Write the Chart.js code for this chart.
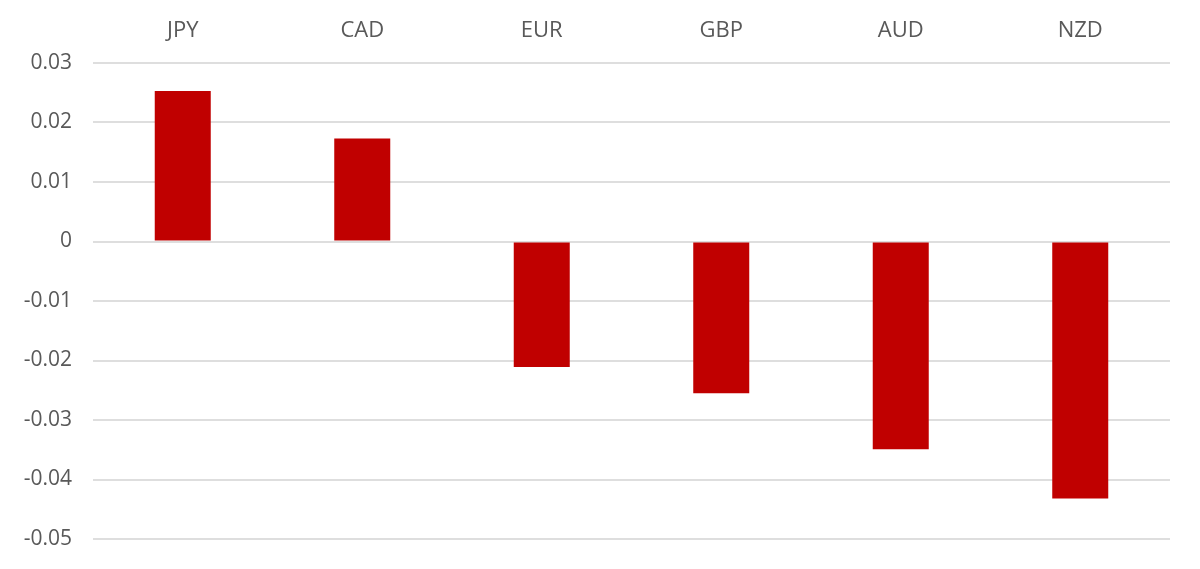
<!DOCTYPE html>
<html>
<head>
<meta charset="utf-8">
<script src="https://cdn.jsdelivr.net/npm/chart.js@4"></script>
<style>
  html, body { margin: 0; padding: 0; background: #fff; }
  #wrap { width: 1200px; height: 569px; }
</style>
</head>
<body>
<div id="wrap"><canvas id="fxChart"></canvas></div>
<script>
const currencies = ['JPY', 'CAD', 'EUR', 'GBP', 'AUD', 'NZD'];
const changes = [0.0253, 0.0173, -0.0211, -0.0255, -0.0349, -0.0432];
const yTicks = [0.03, 0.02, 0.01, 0, -0.01, -0.02, -0.03, -0.04, -0.05];

const textColor = '#595959';
const yFont = { family: '"Open Sans", sans-serif', size: 21 };
const xFont = { family: '"Open Sans", sans-serif', size: 22 };

var ctx = document.getElementById('fxChart').getContext('2d');
var fxChart = new Chart(ctx, {
  type: 'bar',
  data: {
    labels: currencies,
    datasets: [
      {
        data: changes,
        backgroundColor: '#c00000',
        borderWidth: 0,
        categoryPercentage: 1,
        barPercentage: 0.312,
      },
    ],
  },
  options: {
    responsive: true,
    maintainAspectRatio: false,
    animation: false,
    layout: { padding: { left: 0, top: 0, right: 30, bottom: 30 } },
    plugins: { legend: { display: false }, tooltip: { enabled: false } },
    scales: {
      x: {
        position: 'top',
        grid: { display: false, drawTicks: false },
        border: { display: false },
        ticks: { color: textColor, font: xFont, padding: 19 },
        afterFit: (scale) => { scale.height = 63; },
      },
      y: {
        min: -0.05,
        max: 0.03,
        grid: { color: '#dedede', lineWidth: 2, drawTicks: false },
        border: { display: false },
        afterBuildTicks: (scale) => {
          scale.ticks = yTicks.map((v) => ({ value: v }));
        },
        ticks: {
          color: textColor,
          font: yFont,
          padding: 21,
          callback: (v) => String(Math.round(v * 100) / 100),
        },
        afterFit: (scale) => {
          scale.width = 93;
          scale.paddingTop = 0;
          scale.paddingBottom = 0;
        },
      },
    },
  },
});
</script>
</body>
</html>
